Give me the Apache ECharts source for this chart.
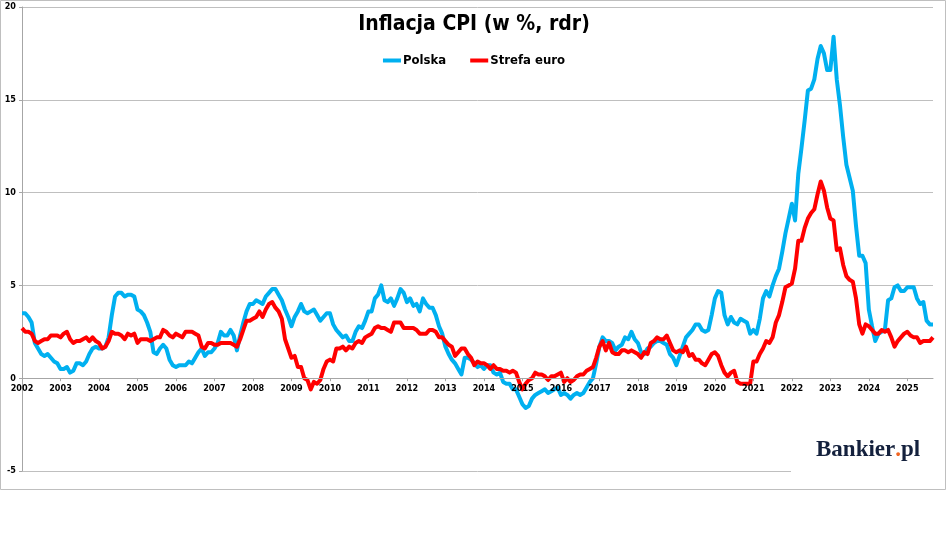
<!DOCTYPE html>
<html>
<head>
<meta charset="utf-8">
<script src="https://cdn.jsdelivr.net/npm/echarts@6/dist/echarts.min.js"></script>
<style>
html,body{margin:0;padding:0;background:#fff;}
#chart{width:948px;height:553px;}
</style>
</head>
<body>
<div id="chart"></div>
<script>
// Year tick labels (first January of each year)
var years = [2002,2003,2004,2005,2006,2007,2008,2009,2010,2011,2012,2013,2014,2015,2016,2017,2018,2019,2020,2021,2022,2023,2024,2025];

// Polska CPI y/y, monthly from 2002-01 to 2025-09
var polska = [
  3.5,3.5,3.3,3.0,1.9,1.6,1.3,1.2,1.3,1.1,0.9,0.8,
  0.5,0.5,0.6,0.3,0.4,0.8,0.8,0.7,0.9,1.3,1.6,1.7,
  1.6,1.6,1.7,2.2,3.4,4.4,4.6,4.6,4.4,4.5,4.5,4.4,
  3.7,3.6,3.4,3.0,2.5,1.4,1.3,1.6,1.8,1.6,1.0,0.7,
  0.6,0.7,0.7,0.7,0.9,0.8,1.1,1.4,1.6,1.2,1.4,1.4,
  1.6,1.9,2.5,2.3,2.3,2.6,2.3,1.5,2.3,3.0,3.6,4.0,
  4.0,4.2,4.1,4.0,4.4,4.6,4.8,4.8,4.5,4.2,3.7,3.3,
  2.8,3.3,3.6,4.0,3.6,3.5,3.6,3.7,3.4,3.1,3.3,3.5,
  3.5,2.9,2.6,2.4,2.2,2.3,2.0,2.0,2.5,2.8,2.7,3.1,
  3.6,3.6,4.3,4.5,5.0,4.2,4.1,4.3,3.9,4.3,4.8,4.6,
  4.1,4.3,3.9,4.0,3.6,4.3,4.0,3.8,3.8,3.4,2.8,2.4,
  1.7,1.3,1.0,0.8,0.5,0.2,1.1,1.1,1.0,0.8,0.6,0.7,
  0.5,0.7,0.7,0.3,0.2,0.3,-0.2,-0.3,-0.3,-0.6,-0.6,-1.0,
  -1.4,-1.6,-1.5,-1.1,-0.9,-0.8,-0.7,-0.6,-0.8,-0.7,-0.6,-0.5,
  -0.9,-0.8,-0.9,-1.1,-0.9,-0.8,-0.9,-0.8,-0.5,-0.2,0.0,0.8,
  1.7,2.2,2.0,2.0,1.9,1.5,1.7,1.8,2.2,2.1,2.5,2.1,
  1.9,1.4,1.3,1.6,1.7,1.9,2.0,2.0,1.9,1.8,1.3,1.1,
  0.7,1.2,1.7,2.2,2.4,2.6,2.9,2.9,2.6,2.5,2.6,3.4,
  4.3,4.7,4.6,3.4,2.9,3.3,3.0,2.9,3.2,3.1,3.0,2.4,
  2.6,2.4,3.2,4.3,4.7,4.4,5.0,5.5,5.9,6.8,7.8,8.6,
  9.4,8.5,11.0,12.4,13.9,15.5,15.6,16.1,17.2,17.9,17.5,16.6,
  16.6,18.4,16.1,14.7,13.0,11.5,10.8,10.1,8.2,6.6,6.6,6.2,
  3.7,2.8,2.0,2.4,2.5,2.6,4.2,4.3,4.9,5.0,4.7,4.7,
  4.9,4.9,4.9,4.3,4.0,4.1,3.1,2.9,2.9
];

// Strefa euro HICP y/y, monthly from 2002-01 to 2025-09
var strefaEuro = [
  2.7,2.5,2.5,2.4,2.0,1.9,2.0,2.1,2.1,2.3,2.3,2.3,
  2.2,2.4,2.5,2.1,1.9,2.0,2.0,2.1,2.2,2.0,2.2,2.0,
  1.9,1.6,1.7,2.0,2.5,2.4,2.4,2.3,2.1,2.4,2.3,2.4,
  1.9,2.1,2.1,2.1,2.0,2.1,2.2,2.2,2.6,2.5,2.3,2.2,
  2.4,2.3,2.2,2.5,2.5,2.5,2.4,2.3,1.7,1.6,1.9,1.9,
  1.8,1.8,1.9,1.9,1.9,1.9,1.8,1.7,2.1,2.6,3.1,3.1,
  3.2,3.3,3.6,3.3,3.7,4.0,4.1,3.8,3.6,3.2,2.1,1.6,
  1.1,1.2,0.6,0.6,0.0,-0.1,-0.6,-0.2,-0.3,-0.1,0.5,0.9,
  1.0,0.9,1.6,1.6,1.7,1.5,1.7,1.6,1.9,2.0,1.9,2.2,
  2.3,2.4,2.7,2.8,2.7,2.7,2.6,2.5,3.0,3.0,3.0,2.7,
  2.7,2.7,2.7,2.6,2.4,2.4,2.4,2.6,2.6,2.5,2.2,2.2,
  2.0,1.8,1.7,1.2,1.4,1.6,1.6,1.3,1.1,0.7,0.9,0.8,
  0.8,0.7,0.5,0.7,0.5,0.5,0.4,0.4,0.3,0.4,0.3,-0.2,
  -0.6,-0.3,-0.1,0.0,0.3,0.2,0.2,0.1,-0.1,0.1,0.1,0.2,
  0.3,-0.2,0.0,-0.2,-0.1,0.1,0.2,0.2,0.4,0.5,0.6,1.1,
  1.7,2.0,1.5,1.9,1.4,1.3,1.3,1.5,1.5,1.4,1.5,1.4,
  1.3,1.1,1.4,1.3,1.9,2.0,2.2,2.1,2.1,2.3,1.9,1.5,
  1.4,1.5,1.4,1.7,1.2,1.3,1.0,1.0,0.8,0.7,1.0,1.3,
  1.4,1.2,0.7,0.3,0.1,0.3,0.4,-0.2,-0.3,-0.3,-0.3,-0.3,
  0.9,0.9,1.3,1.6,2.0,1.9,2.2,3.0,3.4,4.1,4.9,5.0,
  5.1,5.9,7.4,7.4,8.1,8.6,8.9,9.1,9.9,10.6,10.1,9.2,
  8.6,8.5,6.9,7.0,6.1,5.5,5.3,5.2,4.3,2.9,2.4,2.9,
  2.8,2.6,2.4,2.4,2.6,2.5,2.6,2.2,1.7,2.0,2.2,2.4,
  2.5,2.3,2.2,2.2,1.9,2.0,2.0,2.0,2.2
];

// Month categories built from the year list
var months = [];
for (var i = 0; i < polska.length; i++) {
  var y = years[0] + Math.floor(i / 12);
  var m = (i % 12) + 1;
  months.push(y + '-' + (m < 10 ? '0' + m : m));
}

var FONT = "'Liberation Sans Narrow','DejaVu Sans Condensed','Liberation Sans',sans-serif";
var GRID_TOP = 7, GRID_BOTTOM = 82, CHART_H = 553;
var Y_MIN = -5, Y_MAX = 20;
// distance from grid bottom to the zero line, so the category axis sits at 0
var zeroOffset = (CHART_H - GRID_TOP - GRID_BOTTOM) * (0 - Y_MIN) / (Y_MAX - Y_MIN);

var chart = echarts.init(document.getElementById('chart'), null, {renderer: 'canvas'});
chart.setOption({
  animation: false,
  backgroundColor: '#ffffff',
  title: {
    text: 'Inflacja CPI (w %, rdr)',
    left: 'center',
    top: 9,
    textStyle: {fontFamily: FONT, fontWeight: 'bold', fontSize: 21, color: '#000'}
  },
  legend: {
    top: 49,
    left: 'center',
    itemWidth: 18,
    itemHeight: 4,
    itemGap: 24,
    icon: 'rect',
    textStyle: {fontFamily: FONT, fontWeight: 'bold', fontSize: 13, color: '#000', padding: [0,0,0,-3]},
    data: ['Polska', 'Strefa euro']
  },
  grid: {left: 22, right: 15, top: GRID_TOP, bottom: GRID_BOTTOM, containLabel: false},
  xAxis: {
    type: 'category',
    data: months,
    boundaryGap: false,
    offset: -zeroOffset,
    z: 10,
    axisLine: {onZero: false, lineStyle: {color: '#a6a6a6', width: 1}},
    axisTick: {
      show: true,
      length: 3,
      interval: function (idx) { return idx % 12 === 0; },
      lineStyle: {color: '#a6a6a6'}
    },
    axisLabel: {
      interval: function (idx) { return idx % 12 === 0; },
      formatter: function (v) { return v.slice(0, 4); },
      fontFamily: FONT, fontWeight: 'bold', fontSize: 9, color: '#000', margin: 6
    },
    splitLine: {show: false}
  },
  yAxis: {
    type: 'value',
    min: Y_MIN, max: Y_MAX, interval: 5,
    axisLine: {show: true, lineStyle: {color: '#a6a6a6', width: 1}},
    axisTick: {show: true, length: 3, lineStyle: {color: '#a6a6a6'}},
    axisLabel: {fontFamily: FONT, fontWeight: 'bold', fontSize: 9, color: '#000', margin: 6},
    splitLine: {show: true, lineStyle: {color: '#bfbfbf', width: 1}}
  },
  series: [
    {
      name: 'Polska', type: 'line', data: polska,
      showSymbol: false, symbol: 'none',
      lineStyle: {color: '#00B0F0', width: 4, join: 'round'},
      itemStyle: {color: '#00B0F0'},
      z: 3
    },
    {
      name: 'Strefa euro', type: 'line', data: strefaEuro,
      showSymbol: false, symbol: 'none',
      lineStyle: {color: '#FF0000', width: 4, join: 'round'},
      itemStyle: {color: '#FF0000'},
      z: 4
    }
  ],
  graphic: [
    {type: 'rect', shape: {x: 0.5, y: 0.5, width: 945, height: 489}, style: {fill: 'none', stroke: '#bfbfbf', lineWidth: 1}, z: 100, silent: true},
    {type: 'rect', shape: {x: 791, y: 425, width: 150, height: 55}, style: {fill: '#ffffff'}, z: 50, silent: true},
    {
      type: 'text', x: 816, y: 439, z: 60,
      style: {
        text: '{a|Bankier}{b|.}{a|pl}',
        rich: {
          a: {fontFamily: "'Liberation Serif','DejaVu Serif',serif", fontWeight: 'bold', fontSize: 23, fill: '#14213d'},
          b: {fontFamily: "'Liberation Serif','DejaVu Serif',serif", fontWeight: 'bold', fontSize: 23, fill: '#f26522'}
        }
      }
    }
  ]
});
</script>
</body>
</html>
